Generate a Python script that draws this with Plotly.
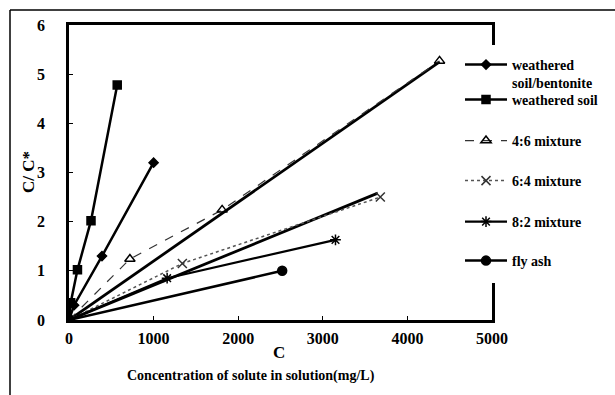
import plotly.graph_objects as go

# ---- data ----
bent_x = [0, 60, 390, 1000]
bent_y = [0, 0.3, 1.3, 3.2]
soil_x = [0, 20, 100, 260, 570]
soil_y = [0, 0.35, 1.02, 2.02, 4.78]
m46_x = [0, 720, 1810, 4380]
m46_y = [0, 1.24, 2.24, 5.27]
m46_fit_x = [0, 4380]
m46_fit_y = [0, 5.25]
m64_x = [0, 1340, 3680]
m64_y = [0, 1.15, 2.5]
m64_fit_x = [0, 3650]
m64_fit_y = [0, 2.58]
m82_x = [0, 1160, 3150]
m82_y = [0, 0.85, 1.63]
ash_x = [0, 2520]
ash_y = [0, 1.0]

x_ticks = [0, 1000, 2000, 3000, 4000, 5000]
y_ticks = [0, 1, 2, 3, 4, 5, 6]

FONT = "Liberation Serif"

# plot area geometry (px) for placing legends
L, R, T, B = 69, 492, 25, 320
W, H = 615, 395


def px2paper(px, py):
    return (px - L) / (R - L), (B - py) / (B - T)


fig = go.Figure()

# fit / trend lines (no legend)
fig.add_trace(go.Scatter(x=m46_fit_x, y=m46_fit_y, mode="lines",
                         line=dict(color="black", width=2.8), showlegend=False))
fig.add_trace(go.Scatter(x=m64_fit_x, y=m64_fit_y, mode="lines",
                         line=dict(color="black", width=2.8), showlegend=False))

series = [
    ("weathered<br>soil/bentonite", bent_x, bent_y, "diamond", 7, dict(color="black", width=2.5), "black", 65),
    ("weathered soil", soil_x, soil_y, "square", 8, dict(color="black", width=2.5), "black", 100),
    ("4:6 mixture", m46_x, m46_y, "triangle-up-open", 9, dict(color="#333", width=1.2, dash="dash"), "black", 141),
    ("6:4 mixture", m64_x, m64_y, "x-thin-open", 9, dict(color="#555", width=1.5, dash="dot"), "#333", 181),
    ("8:2 mixture", m82_x, m82_y, "asterisk-open", 9, dict(color="black", width=2.2), "black", 222),
    ("fly ash", ash_x, ash_y, "circle", 9, dict(color="black", width=2.5), "black", 261),
]

legend_names = ["legend", "legend2", "legend3", "legend4", "legend5", "legend6"]
layout_legends = {}
for i, (name, xs, ys, sym, size, line, mcol, ly) in enumerate(series):
    fig.add_trace(go.Scatter(
        x=xs, y=ys, mode="lines+markers", name=name,
        line=line,
        marker=dict(symbol=sym, size=size, color=mcol,
                    line=dict(color=mcol, width=1.5)),
        legend=legend_names[i],
    ))
    lx, lyp = px2paper(460, ly)
    layout_legends[legend_names[i]] = dict(
        x=lx, y=lyp, xanchor="left", yanchor="top" if i == 0 else "middle",
        bgcolor="rgba(0,0,0,0)", borderwidth=0,
        font=dict(family=FONT, size=14, color="black", weight="bold"),
        valign="top", itemclick=False, itemdoubleclick=False,
        tracegroupgap=0, itemwidth=42,
    )

# first legend: anchor top near first line
lx0, ly0 = px2paper(460, 65 - 16)
layout_legends["legend"]["y"] = ly0

axis_font = dict(family=FONT, size=16, color="black", weight="bold")

fig.update_layout(
    width=W, height=H,
    margin=dict(l=L, r=W - R, t=T, b=H - B),
    paper_bgcolor="white", plot_bgcolor="white",
    showlegend=True,
    xaxis=dict(range=[0, 5000], tickvals=x_ticks, ticktext=[str(v) for v in x_ticks],
               showgrid=False, zeroline=False, showline=True, linecolor="black",
               linewidth=2.5, mirror=True, ticks="inside", ticklen=4, tickcolor="black",
               tickfont=axis_font, ticklabelstandoff=2),
    yaxis=dict(range=[0, 6], tickvals=y_ticks, ticktext=[str(v) for v in y_ticks],
               showgrid=False, zeroline=False, showline=True, linecolor="black",
               linewidth=2.5, mirror=True, ticks="inside", ticklen=4, tickcolor="black",
               tickfont=axis_font, ticklabelstandoff=18),
    shapes=[
        # white gap in right frame behind legend
        dict(type="rect", xref="paper", yref="paper",
             x0=px2paper(486, 0)[0], x1=px2paper(498, 0)[0],
             y0=px2paper(0, 283)[1], y1=px2paper(0, 45)[1],
             fillcolor="white", line=dict(width=0), layer="above"),
        # outer figure border (left and top)
        dict(type="line", xref="paper", yref="paper",
             x0=px2paper(10, 0)[0], x1=px2paper(10, 0)[0],
             y0=px2paper(0, 395)[1], y1=px2paper(0, 10)[1],
             line=dict(color="black", width=1.5)),
        dict(type="line", xref="paper", yref="paper",
             x0=px2paper(10, 0)[0], x1=px2paper(615, 0)[0],
             y0=px2paper(0, 10)[1], y1=px2paper(0, 10)[1],
             line=dict(color="black", width=1.5)),
    ],
    annotations=[
        dict(text="C/ C*", xref="paper", yref="paper",
             x=px2paper(28, 0)[0], y=px2paper(0, 172)[1], showarrow=False,
             textangle=-90, font=dict(family=FONT, size=17, color="black", weight="bold"),
             xanchor="center", yanchor="middle"),
        dict(text="C", xref="paper", yref="paper",
             x=px2paper(279, 0)[0], y=px2paper(0, 352)[1], showarrow=False,
             font=dict(family=FONT, size=17, color="black", weight="bold"),
             xanchor="center", yanchor="middle"),
        dict(text="Concentration of solute in solution(mg/L)", xref="paper", yref="paper",
             x=px2paper(251, 0)[0], y=px2paper(0, 376)[1], showarrow=False,
             font=dict(family=FONT, size=14, color="black", weight="bold"),
             xanchor="center", yanchor="middle"),
    ],
    **layout_legends,
)

fig.write_html("out.html")
